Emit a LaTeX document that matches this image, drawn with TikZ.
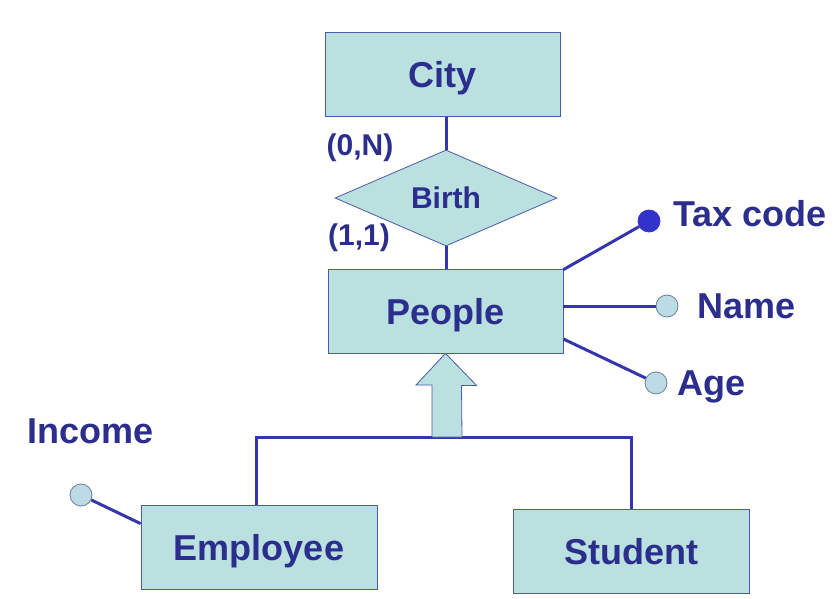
\documentclass[tikz,border=0pt]{standalone}
\usepackage{fontspec}
\setmainfont{Liberation Sans}
\usepackage{tikz}
\usetikzlibrary{arrows.meta,positioning,shapes.geometric,calc}
\definecolor{ink}{HTML}{2B2E8C}
\definecolor{wire}{HTML}{3535B0}
\definecolor{edge}{HTML}{4B5BA8}
\definecolor{aqua}{HTML}{BAE0DF}
\definecolor{pale}{HTML}{BBDCE6}
\definecolor{rim}{HTML}{6E8090}
\definecolor{keyblue}{HTML}{3333CC}
\tikzset{
  entity/.style={rectangle, draw=edge, fill=aqua, line width=0.8pt, minimum width=235pt,
                 minimum height=84pt, inner sep=0pt, text depth=0pt, text=ink,
                 font=\fontsize{36}{40}\selectfont\bfseries},
  relship/.style={diamond, draw=edge, fill=aqua, line width=0.8pt, minimum width=222pt,
                  minimum height=96pt, inner sep=0pt, text depth=0pt, text=ink,
                  font=\fontsize{30}{34}\selectfont\bfseries},
  attr/.style={circle, draw=rim, fill=pale, line width=0.8pt, minimum size=22pt, inner sep=0pt},
  keyattr/.style={attr, draw=keyblue, fill=keyblue},
  attrlbl/.style={text=ink, font=\fontsize{36}{40}\selectfont\bfseries, inner sep=0pt},
  card/.style={text=ink, font=\fontsize{30}{34}\selectfont\bfseries, inner sep=0pt},
  link/.style={draw=wire, line width=3pt},
  isa/.style={draw=edge, fill=aqua, line width=0.8pt, line join=miter}
}
\begin{document}
\begin{tikzpicture}[x=1pt,y=-1pt]
 \useasboundingbox (0,0) rectangle (838,599);
 \node[entity] (city) at (443,74.5) {City};
 \node[relship] (birth) at (446,198) {Birth};
 \node[entity] (ppl) at (445.5,311) {People};
 \node[entity, minimum width=236pt] (emp) at (259,547) {Employee};
 \node[entity, minimum width=236pt] (stu) at (631,551) {Student};
 \node[card] (cn) at (360,148) {(0,N)};
 \node[card] (c11) at (359,238) {(1,1)};
 % attributes of People
 \node[keyattr] (tax) at (649,221) {};
 \node[attr] (name) at (667,306) {};
 \node[attr] (age) at (656,383) {};
 \node[attrlbl, anchor=west] (taxl) at (673,214) {Tax code};
 \node[attrlbl, anchor=west] (namel) at (697,306) {Name};
 \node[attrlbl, anchor=west] (agel) at (677,387) {Age};
 % attribute of Employee
 \node[attr] (inc) at (81,495) {};
 \node[attrlbl, anchor=west] (incl) at (27,431) {Income};
 \draw[link] (birth.north) -- (birth.north |- city.south);
 \draw[link] (birth.south) -- (birth.south |- ppl.north);
 \draw[link] ($(ppl.north east)+(0,1)$) -- (tax);
 \draw[link] ($(ppl.east)+(0,-5)$) -- (name.west);
 \draw[link] ($(ppl.east)+(0,28)$) -- (age);
 \draw[link] ($(emp.north west)+(0,19)$) -- (inc);
 % generalization
 \coordinate (hub) at (446,437);
 \draw[link, line join=miter] ($(emp.north)+(-3,0)$) |- (hub) -| (stu.north);
 \draw[isa] (ppl.south) -- ++(31,32) -- ++(-15,0) -- ($(hub)+(16,0)$) -- ($(hub)+(-14,0)$)
   -- ++(0,-52) -- ++(-16,0) -- cycle;
\end{tikzpicture}
\end{document}
